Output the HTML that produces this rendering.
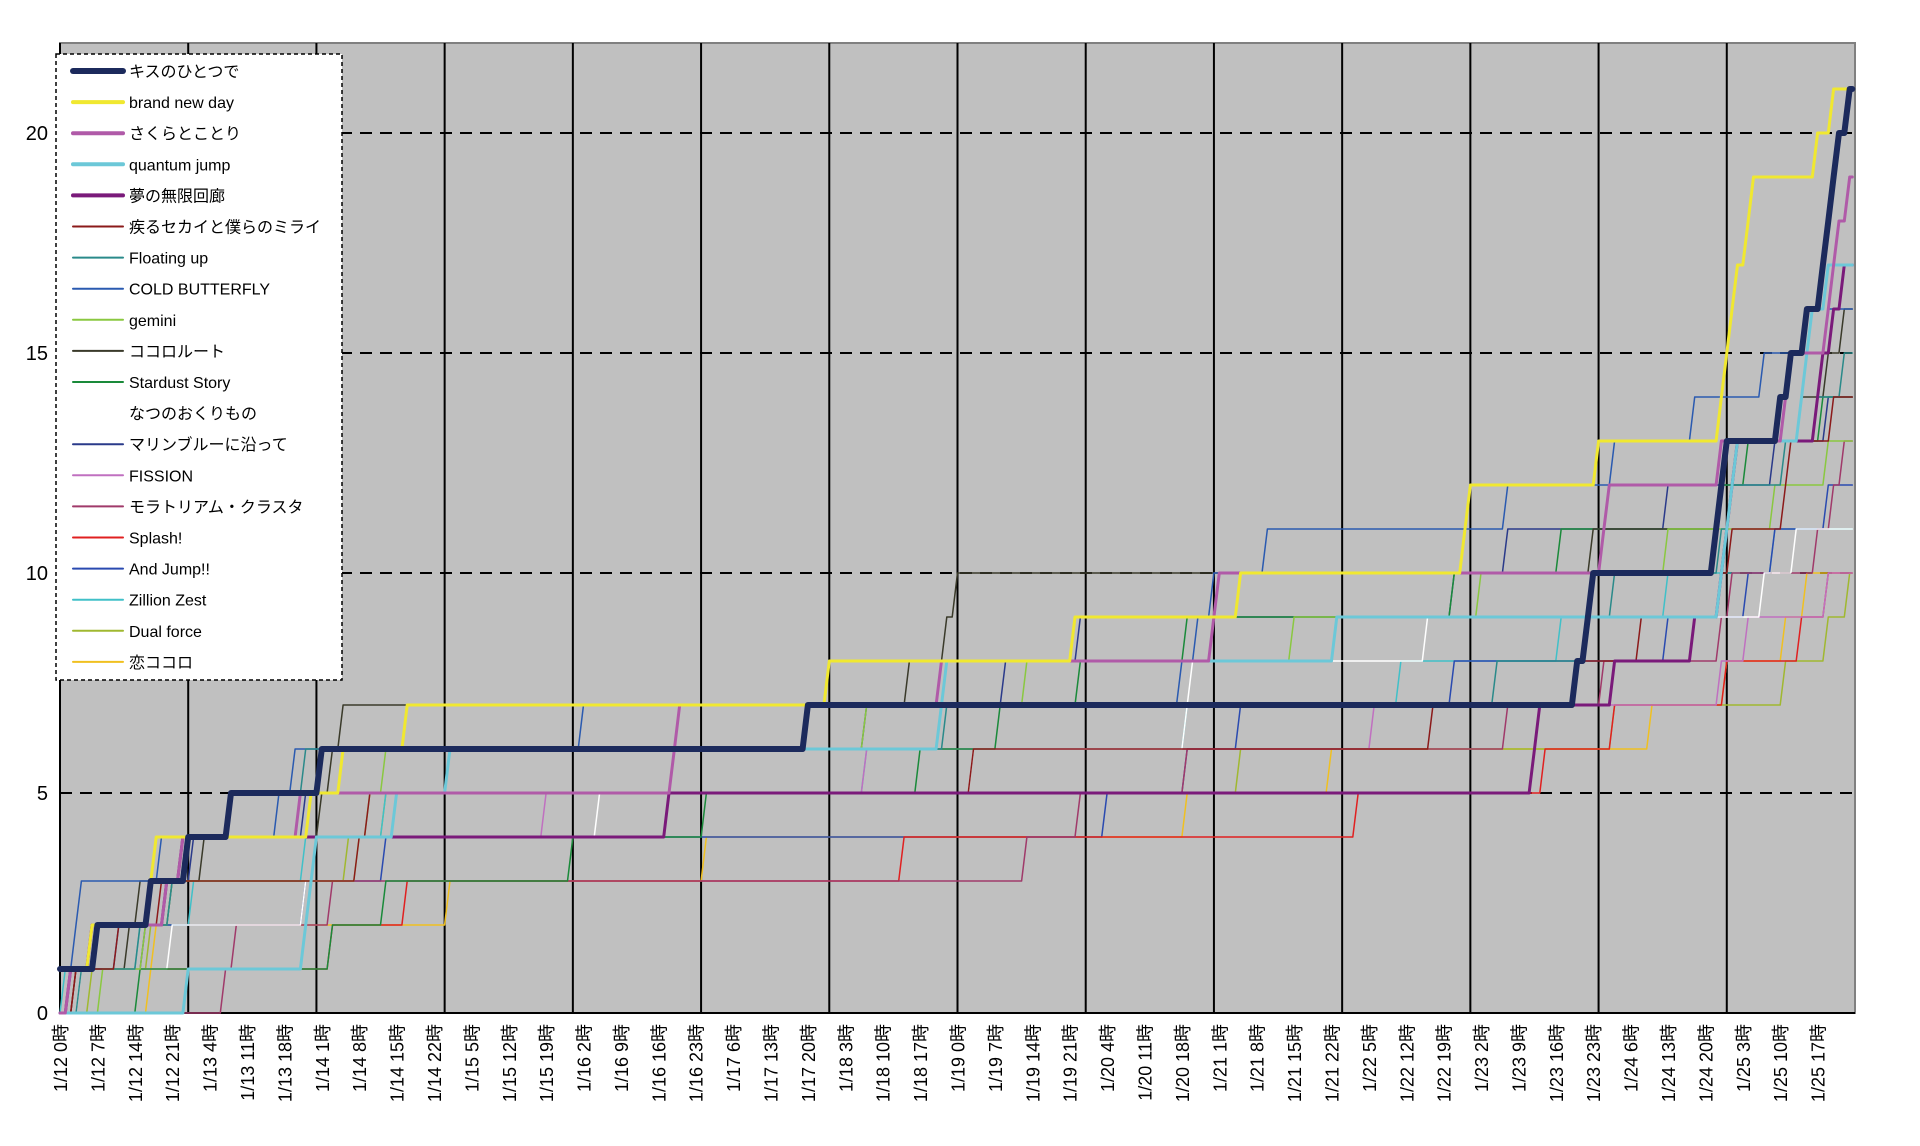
<!DOCTYPE html>
<html><head><meta charset="utf-8"><style>
html,body{margin:0;padding:0;background:#fff;}
svg{display:block;font-family:"Liberation Sans","Noto Sans CJK JP",sans-serif;}
</style></head><body>
<svg id="c" width="1920" height="1146" viewBox="0 0 1920 1146" xmlns="http://www.w3.org/2000/svg">
<rect x="60" y="43" width="1795" height="970" fill="#c0c0c0" stroke="#808080" stroke-width="2"/>
<g id="grid"></g>
<g id="series"></g>
<g id="legend"></g>
<g id="labels" font-size="18" fill="#000"></g>
</svg>
<script>
var NS="http://www.w3.org/2000/svg";
function X(h){return 60+h*1795/336;}
function Y(v){return 1013-v*44;}
function el(t,a,p,txt){var e=document.createElementNS(NS,t);for(var k in a)e.setAttribute(k,a[k]);if(txt!==undefined)e.textContent=txt;p.appendChild(e);return e;}
var g=document.getElementById('grid');
for(var k=1;k<14;k++){var x=X(k*24);el('line',{x1:x,y1:43,x2:x,y2:1013,stroke:'#000','stroke-width':2},g);}
[5,10,15,20].forEach(function(v){el('line',{x1:60,y1:Y(v),x2:1855,y2:Y(v),stroke:'#000','stroke-width':2,'stroke-dasharray':'12,8'},g);});
el('line',{x1:60,y1:1013,x2:1855,y2:1013,stroke:'#000','stroke-width':2},g);
el('line',{x1:60,y1:43,x2:60,y2:1013,stroke:'#000','stroke-width':2},g);
var L=document.getElementById('labels');
[0,5,10,15,20].forEach(function(v){el('text',{x:48,y:Y(v)+7,'text-anchor':'end','font-size':20},L,String(v));});
for(var i=0;i<48;i++){var h=7*i;var d=12+Math.floor(h/24);var t='1/'+d+' '+(h%24)+'時';var x=X(h)+7;
el('text',{x:0,y:0,'text-anchor':'end',transform:'translate('+x+',1024) rotate(-90)'},L,t);}
var S=[
['キスのひとつで','#1c2a5c',6,1,[6,16,23,31,48,139,283,285,286,309,310,311,321,323,326,329,330,331,332,334]],
['brand new  day','#f0e830',3,1,[5,16,17,46,52,64,143,189,220,262,263,287,310,311,312,313,315,316,328,331]],
['さくらとことり','#b05aa8',3,0,[1,5,19,22,44,114,115,164,215,216,288,289,310,322,323,330,331,332,334]],
['quantum jump','#6cc8d8',3,0,[23,45,46,47,62,72,164,165,238,310,311,312,313,325,326,327,330]],
['夢の無限回廊','#7a1a7a',3,0,[1,5,19,22,113,275,276,290,305,310,311,312,313,328,329,331,333]],
['疾るセカイと僕らのミライ','#8b1a1a',1.5,0,[2,10,18,55,57,170,256,283,295,310,312,322,323,331]],
['Floating up','#2a8a8a',1.5,0,[3,14,20,22,44,45,165,268,285,290,310,312,322,328,333]],
['COLD BUTTERFLY','#2a5ab0',1.5,0,[1,2,3,18,40,43,97,209,212,215,225,270,290,305,318,330]],
['gemini','#8ac840',1.5,0,[7,15,20,55,57,60,150,180,230,265,300,320,330]],
['ココロルート','#3a3a2a',1.5,0,[2,12,14,26,48,50,52,158,165,167,286,310,311,325,330,333]],
['Stardust Story','#1a8a3a',1.5,0,[14,50,60,95,120,160,175,190,210,260,280,310,315,329]],
['なつのおくりもの','#ffffff',1.5,0,[3,20,45,55,100,170,210,211,255,318,324]],
['マリンブルーに沿って','#2a3a8a',1.5,0,[1,15,20,24,45,48,150,176,190,260,270,300,320,330]],
['FISSION','#c070c0',1.5,0,[1,5,20,22,90,150,245,310,315,330]],
['モラトリアム・クラスタ','#a03a6a',1.5,0,[30,32,50,180,190,210,270,288,310,312,328,331,333]],
['Splash!','#e02020',1.5,0,[2,50,64,157,242,277,290,311,325,330]],
['And Jump!!','#2a4ab0',1.5,0,[1,10,45,60,195,210,220,260,300,315,320,330]],
['Zillion Zest','#40c0c8',1.5,0,[0,14,24,45,60,150,210,250,280,300,320]],
['Dual force','#a0b830',1.5,0,[5,16,20,53,60,220,290,322,330,334]],
['恋ココロ','#f0c020',1.5,0,[16,17,72,120,210,237,297,311,322,326]]
];
var G=document.getElementById('series');
for(var s=S.length-1;s>=0;s--){var r=S[s];var v=r[3];var d='M'+X(0)+' '+Y(v);
r[4].forEach(function(h){d+=' L'+X(h).toFixed(1)+' '+Y(v);v++;d+=' L'+X(h+1).toFixed(1)+' '+Y(v);});
d+=' L'+X(335.5).toFixed(1)+' '+Y(v);
el('path',{d:d,fill:'none',stroke:r[1],'stroke-width':r[2],'stroke-linejoin':'round','stroke-linecap':'round'},G);}
var LG=document.getElementById('legend');
el('rect',{x:56,y:54,width:286,height:626,fill:'#fff',stroke:'#000','stroke-width':1.5,'stroke-dasharray':'4,3'},LG);
S.forEach(function(r,i){var y=71+i*31.1;
el('line',{x1:73,y1:y,x2:123,y2:y,stroke:r[1],'stroke-width':r[2]>=3?(r[2]>=6?6:4):2,'stroke-linecap':'round'},LG);
el('text',{x:129,y:y+6,'font-size':16,fill:'#000'},LG,r[0]);});
</script>
</body></html>
